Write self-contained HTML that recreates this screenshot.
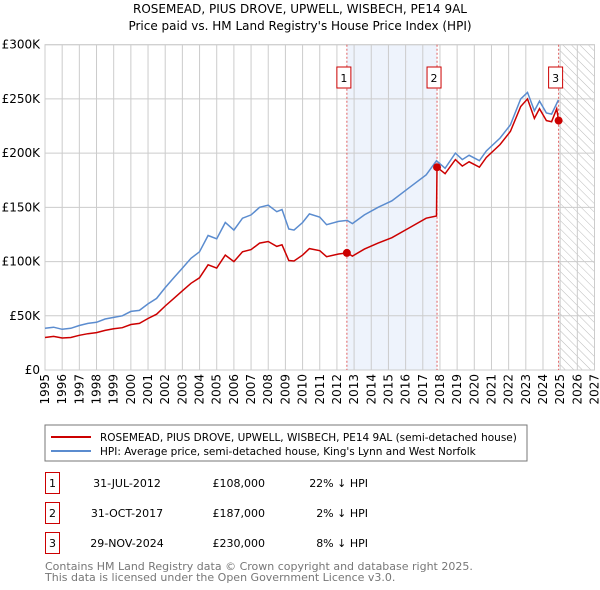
<!DOCTYPE html>
<html><head><meta charset="utf-8"><style>
body{margin:0;background:#fff;font-family:"Liberation Sans","DejaVu Sans",sans-serif;}
#wrap{position:relative;width:600px;height:590px;overflow:hidden;}
svg text{font-family:"DejaVu Sans","Liberation Sans",sans-serif;}
</style></head><body><div id="wrap">
<svg id="chart" width="600" height="590" xmlns="http://www.w3.org/2000/svg">
<defs><pattern id="hatch" width="6" height="6" patternUnits="userSpaceOnUse" patternTransform="rotate(-45)"><line x1="0" y1="0" x2="0" y2="6" stroke="#bbb" stroke-width="1"/></pattern></defs>
<text x="300" y="13" text-anchor="middle" font-size="12" fill="#000">ROSEMEAD, PIUS DROVE, UPWELL, WISBECH, PE14 9AL</text>
<text x="300" y="30" text-anchor="middle" font-size="12" fill="#000">Price paid vs. HM Land Registry's House Price Index (HPI)</text>
<g id="plot"></g>
<g>
<rect x="45" y="425" width="482" height="36" fill="#fff" stroke="#777"/>
<line x1="51" y1="437" x2="91" y2="437" stroke="#cc0000" stroke-width="2"/>
<text x="100" y="441" font-size="10.5">ROSEMEAD, PIUS DROVE, UPWELL, WISBECH, PE14 9AL (semi-detached house)</text>
<line x1="51" y1="451" x2="91" y2="451" stroke="#5b8ccf" stroke-width="2"/>
<text x="100" y="455" font-size="10.5">HPI: Average price, semi-detached house, King's Lynn and West Norfolk</text>
</g>
<g id="table" font-size="11"></g>
<text x="45" y="570" font-size="11" fill="#777">Contains HM Land Registry data © Crown copyright and database right 2025.</text>
<text x="45" y="581" font-size="11" fill="#777">This data is licensed under the Open Government Licence v3.0.</text>
</svg></div>
<script>
const hpiYears=[1995.0,1995.5,1996.0,1996.5,1997.0,1997.5,1998.0,1998.5,1999.0,1999.5,2000.0,2000.5,2001.0,2001.5,2002.0,2002.5,2003.0,2003.5,2004.0,2004.5,2005.0,2005.5,2006.0,2006.5,2007.0,2007.5,2008.0,2008.5,2008.8,2009.2,2009.5,2010.0,2010.4,2011.0,2011.4,2012.1,2012.6,2012.9,2013.6,2014.4,2015.2,2016.2,2017.2,2017.8,2018.3,2018.9,2019.3,2019.7,2020.3,2020.7,2021.5,2022.1,2022.7,2023.1,2023.5,2023.8,2024.2,2024.5,2024.9];
const hpiValues=[38.5,39.5,37.5,38.5,41,43,44,47,48.5,50,54,55,61,66,76,85,94,103,109,124,121,136,129,140,143,150,152,146,148,130,129,136,144,141,134,137,138,135,143,150,156,168,180,193,186,200,194,198,193,202,214,226,250,256,239,248,237,236,249];
const redYears=[1995.0,1995.5,1996.0,1996.5,1997.0,1997.5,1998.0,1998.5,1999.0,1999.5,2000.0,2000.5,2001.0,2001.5,2002.0,2002.5,2003.0,2003.5,2004.0,2004.5,2005.0,2005.5,2006.0,2006.5,2007.0,2007.5,2008.0,2008.5,2008.8,2009.2,2009.5,2010.0,2010.4,2011.0,2011.4,2012.1,2012.6,2012.9,2013.6,2014.4,2015.2,2016.2,2017.2,2017.8,2017.83,2018.3,2018.9,2019.3,2019.7,2020.3,2020.7,2021.5,2022.1,2022.7,2023.1,2023.5,2023.8,2024.2,2024.5,2024.8,2024.91];
const redValues=[30,31,29.5,30,32,33.5,34.5,36.5,38,39,42,43,47.5,51.5,59,66,73,80,85,97,94,106,100,109,111,117,118.5,114,115.5,101,100.5,106,112,110,104.5,107,108,105,111.5,117,122,131,140,142,187,181,194,188,192,187,196,208,220,243,250,232,241,230,229,241,230];
const saleYears=[2012.58,2017.83,2024.91];
const saleValues=[108,187,230];
const saleLabels=["1","2","3"];
const saleDates=["31-JUL-2012","31-OCT-2017","29-NOV-2024"];
const salePrices=["£108,000","£187,000","£230,000"];
const saleHpi=["22% ↓ HPI","2% ↓ HPI","8% ↓ HPI"];
const yTicks=[0,50,100,150,200,250,300];
const yTickLabels=["£0","£50K","£100K","£150K","£200K","£250K","£300K"];
const xTicks=[1995,1996,1997,1998,1999,2000,2001,2002,2003,2004,2005,2006,2007,2008,2009,2010,2011,2012,2013,2014,2015,2016,2017,2018,2019,2020,2021,2022,2023,2024,2025,2026,2027];

const X0=45,X1=594.5,Y0=370,Y1=44.7;
const xs=y=>X0+(y-1995)/(2027-1995)*(X1-X0);
const ys=v=>Y0-v/300*(Y0-Y1);
const NS="http://www.w3.org/2000/svg";
const plot=document.getElementById('plot');
function mk(tag,attrs,parent){const e=document.createElementNS(NS,tag);for(const k in attrs)e.setAttribute(k,attrs[k]);(parent||plot).appendChild(e);return e;}

let e;
e=mk('rect',{x:xs(saleYears[0]),y:Y1,width:xs(saleYears[1])-xs(saleYears[0]),height:Y0-Y1,fill:'#eef3fc'});


e=mk('rect',{x:xs(saleYears[2]),y:Y1,width:X1-xs(saleYears[2]),height:Y0-Y1,fill:'url(#hatch)'});


xTicks.forEach(t=>{
  e=mk('line',{x1:xs(t),x2:xs(t),y1:Y1,y2:Y0,stroke:'#ccc','stroke-width':1});
  
  
  e=mk('text',{x:0,y:0,transform:`translate(${xs(t)+4},${Y0+4}) rotate(-90)`,'text-anchor':'end','font-size':12,fill:'#000'});
  e.textContent=t;
  
  
});
yTicks.forEach((t,i)=>{
  e=mk('line',{x1:X0,x2:X1,y1:ys(t),y2:ys(t),stroke:'#ccc','stroke-width':1});
  
  
  e=mk('text',{x:40,y:ys(t)+4,'text-anchor':'end','font-size':12,fill:'#000'});
  e.textContent=yTickLabels[i];
  
  
});
e=mk('rect',{x:X0,y:Y1,width:X1-X0,height:Y0-Y1,fill:'none',stroke:'#ccc'});


saleYears.forEach((s,i)=>{
  e=mk('line',{x1:xs(s),x2:xs(s),y1:Y1,y2:Y0,stroke:'#e06060','stroke-width':1,'stroke-dasharray':'2,2'});
  
  
});
e=mk('path',{d:hpiYears.map((y,i)=>(i?'L':'M')+xs(y).toFixed(1)+','+ys(hpiValues[i]).toFixed(1)).join(''),fill:'none',stroke:'#5b8ccf','stroke-width':1.5});


e=mk('path',{d:redYears.map((y,i)=>(i?'L':'M')+xs(y).toFixed(1)+','+ys(redValues[i]).toFixed(1)).join(''),fill:'none',stroke:'#cc0000','stroke-width':1.5});


saleYears.forEach((s,i)=>{
  e=mk('circle',{cx:xs(s),cy:ys(saleValues[i]),r:4,fill:'#cc0000'});
  
  
  e=mk('rect',{x:xs(s)-10,y:67,width:14,height:21,fill:'#fff',stroke:'#cc0000'});
  
  
  e=mk('text',{x:xs(s)-3,y:82,'text-anchor':'middle','font-size':11});
  e.textContent=saleLabels[i];
  
  
});
const tbl=document.getElementById('table');
const rowY=[483,513,543];
saleLabels.forEach((l,i)=>{
  const y=rowY[i];
  e=mk('rect',{x:45.5,y:y-10.5,width:14,height:21,fill:'#fff',stroke:'#cc0000'},tbl);
  
  
  e=mk('text',{x:52.5,y:y+4,'text-anchor':'middle'},tbl);e.textContent=l;
  
  
  e=mk('text',{x:127,y:y+4,'text-anchor':'middle'},tbl);e.textContent=saleDates[i];
  
  
  e=mk('text',{x:265,y:y+4,'text-anchor':'end'},tbl);e.textContent=salePrices[i];
  
  
  e=mk('text',{x:368,y:y+4,'text-anchor':'end'},tbl);e.textContent=saleHpi[i];
  
  
});
</script></body></html>
